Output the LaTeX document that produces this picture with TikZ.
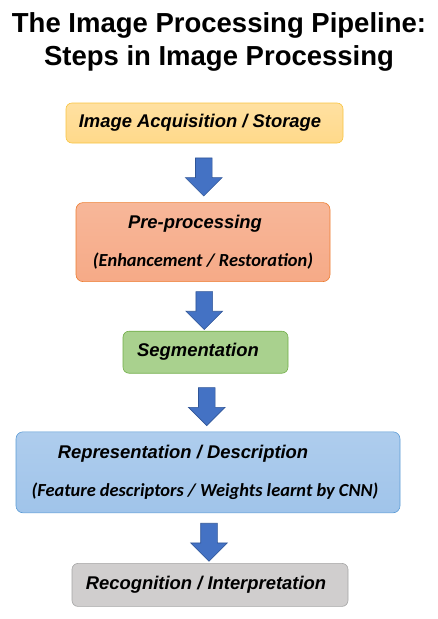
\documentclass[tikz,border=0pt]{standalone}
\usepackage{fontspec}
\setmainfont{Liberation Sans}
\newfontfamily\subfont{Carlito}
\usepackage{tikz}
\usetikzlibrary{shapes,arrows,positioning,calc}
\definecolor{acqfill}{RGB}{255,217,138}
\definecolor{acqedge}{RGB}{248,196,64}
\definecolor{prefill}{RGB}{246,170,135}
\definecolor{preedge}{RGB}{237,125,49}
\definecolor{segfill}{RGB}{169,209,142}
\definecolor{segedge}{RGB}{112,173,71}
\definecolor{repfill}{RGB}{160,196,234}
\definecolor{repedge}{RGB}{91,155,213}
\definecolor{recfill}{RGB}{208,206,206}
\definecolor{recedge}{RGB}{165,165,165}
\definecolor{flowblue}{RGB}{68,114,196}
\definecolor{flowedge}{RGB}{47,85,151}

\begin{document}
\begin{tikzpicture}[
    x=1pt, y=-1pt,
    stage/.style={rectangle, semithick, rounded corners=7pt, align=center, inner sep=0pt,
        font=\fontsize{18.4}{38}\selectfont\bfseries\itshape},
    flow/.style={single arrow, draw=flowedge, fill=flowblue, semithick, shape border rotate=270,
        minimum width=36pt, minimum height=38pt, single arrow head extend=10pt, inner sep=8pt}
]
    \useasboundingbox (0,0) rectangle (437,619);

    \node[anchor=north, align=center, inner sep=0pt, font=\fontsize{27.5}{33}\selectfont\bfseries]
        (title) at (219,12) {The Image Processing Pipeline:\\Steps in Image Processing};

    \node[stage, draw=acqedge, top color=acqfill!80!white, bottom color=acqfill,
        minimum width=277pt, minimum height=40pt, rounded corners=6pt] (acq) at (204.5,123)
        {Image Acquisition / Storage\hspace*{9pt}};
    \node[stage, draw=preedge, top color=prefill!85!white, bottom color=prefill,
        minimum width=254pt, minimum height=79pt, below=59pt of acq, xshift=-1.5pt] (pre)
        {Pre-processing\hspace*{16pt}\\{\subfont (Enhancement / Restoration)}};
    \node[stage, draw=segedge, fill=segfill, minimum width=165pt, minimum height=42pt,
        rounded corners=6pt, below=49pt of pre, xshift=2.5pt] (seg)
        {Segmentation\hspace*{15pt}};
    \node[stage, draw=repedge, top color=repfill!85!white, bottom color=repfill,
        minimum width=384pt, minimum height=81pt, below=58pt of seg, xshift=2.5pt] (rep)
        {Representation / Description\hspace*{50pt}\\{\subfont (Feature descriptors / Weights learnt by CNN)\hspace*{6pt}}};
    \node[stage, draw=recedge, fill=recfill, minimum width=276pt, minimum height=43pt,
        rounded corners=6pt, below=50pt of rep, xshift=2pt] (rec)
        {Recognition / Interpretation\hspace*{8pt}};

    % block arrows between the stages
    \node[flow] (f1) at ($(acq.south)!0.5!(pre.north)$) {};
    \node[flow] (f2) at ($(pre.south)!0.5!(seg.north)$) {};
    \node[flow] (f3) at ($(seg.south)!0.5!(rep.north)$) {};
    \node[flow] (f4) at ($(rep.south)!0.5!(rec.north)$) {};
\end{tikzpicture}
\end{document}
